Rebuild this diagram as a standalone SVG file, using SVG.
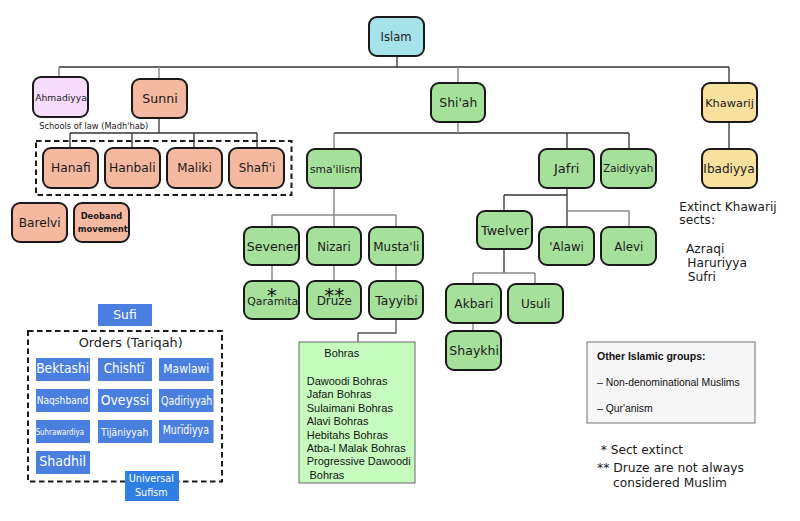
<svg xmlns="http://www.w3.org/2000/svg" width="800" height="521" viewBox="0 0 800 521">
<style>
.n rect{stroke:#1a1a1a;stroke-width:2}
.t{font-family:"DejaVu Sans",sans-serif;font-size:12px;fill:#1a1a1a;text-anchor:middle}
.cyan{fill:#a6e2ea}.sal{fill:#f5b8a0}.grn{fill:#a6e19c}.yel{fill:#f8e09d}.pur{fill:#f7dcfe}
.d{fill:none;stroke:#333;stroke-width:1.3}
.l{fill:none;stroke:#8a8a8a;stroke-width:1.5}
.dash{fill:none;stroke:#1a1a1a;stroke-width:2;stroke-dasharray:5.5,3.5}
.o rect{fill:#4a7fe0}
.w{font-family:"DejaVu Sans",sans-serif;fill:#ffffff;text-anchor:middle}
.lab{font-family:"DejaVu Sans",sans-serif;font-size:12.2px;fill:#1a1a1a}
.ar{font-family:"Liberation Sans",Arial,sans-serif;font-size:11px;fill:#111}
.star{font-family:"DejaVu Sans",sans-serif;font-size:20px;fill:#111;text-anchor:middle}
</style>
<rect width="800" height="521" fill="#ffffff"/>
<g id="connectors">
<path class="d" d="M397,56V67M59,67H729M729,67V83M159,118V133M70,133H257M70,133V148M132,133V148M194,133V148M257,133V148M334,133H629M567,133V149M629,133V149M729,122V149M567,188V227M504,195H567M504,195V211M504,249V273"/>
<path class="l" d="M59,67V77M159,67V79M458,67V83M458,122V133M334,133V149M334,188V227M272,215H396M272,215V227M396,215V227M272,265V281M334,265V281M396,265V281M567,211H629V227M473,273H535M473,273V284M535,273V284M473,323V331"/>
<path fill="none" stroke="#555" stroke-width="1.3" d="M396,319V333H358V342"/>
</g>
<g id="islam" class="n"><rect class="cyan" x="369" y="17" width="55" height="39" rx="8"/><text class="t" x="396" y="41" textLength="31" lengthAdjust="spacingAndGlyphs">Islam</text></g>
<g id="ahmadiyya" class="n"><rect class="pur" x="33" y="77" width="55" height="40" rx="8"/><text class="t" x="61" y="100.5" style="font-size:9.2px" textLength="51.5" lengthAdjust="spacingAndGlyphs">Ahmadiyya</text></g>
<g id="sunni" class="n"><rect class="sal" x="132" y="79" width="55" height="39" rx="8"/><text class="t" x="160" y="103" textLength="35.4" lengthAdjust="spacingAndGlyphs">Sunni</text></g>
<g id="shiah" class="n"><rect class="grn" x="431" y="83" width="54" height="39" rx="8"/><text class="t" x="458.3" y="107" textLength="38" lengthAdjust="spacingAndGlyphs">Shi'ah</text></g>
<g id="khawarij" class="n"><rect class="yel" x="702" y="83" width="55" height="39" rx="8"/><text class="t" x="729.5" y="106.5" style="font-size:11.3px" textLength="48.7" lengthAdjust="spacingAndGlyphs">Khawarij</text></g>
<g id="schools-label"><text x="39.3" y="129" style="font-family:'DejaVu Sans',sans-serif;font-size:8.3px;fill:#1a1a1a" textLength="109" lengthAdjust="spacingAndGlyphs">Schools of law (Madh'hab)</text></g>
<g id="schools-box"><rect class="dash" x="36" y="141" width="255.5" height="54"/></g>
<g id="hanafi" class="n"><rect class="sal" x="43" y="148" width="55" height="40" rx="8"/><text class="t" x="70.8" y="172.3" textLength="39.7" lengthAdjust="spacingAndGlyphs">Hanafi</text></g>
<g id="hanbali" class="n"><rect class="sal" x="105" y="148" width="55" height="40" rx="8"/><text class="t" x="132.3" y="172.3" textLength="46.7" lengthAdjust="spacingAndGlyphs">Hanbali</text></g>
<g id="maliki" class="n"><rect class="sal" x="167" y="148" width="55" height="40" rx="8"/><text class="t" x="194.5" y="172.3" textLength="34.4" lengthAdjust="spacingAndGlyphs">Maliki</text></g>
<g id="shafii" class="n"><rect class="sal" x="229" y="148" width="55" height="40" rx="8"/><text class="t" x="257" y="172.3" textLength="36.6" lengthAdjust="spacingAndGlyphs">Shafi'i</text></g>
<g id="barelvi" class="n"><rect class="sal" x="12" y="203" width="55" height="39" rx="8"/><text class="t" x="39.7" y="227" textLength="42" lengthAdjust="spacingAndGlyphs">Barelvi</text></g>
<g id="deoband" class="n"><rect class="sal" x="74" y="203" width="55" height="39" rx="8"/><text class="t" x="101.5" y="219.3" style="font-size:8.3px;font-weight:bold" textLength="41.6" lengthAdjust="spacingAndGlyphs">Deoband</text><text class="t" x="102.7" y="232.3" style="font-size:8.3px;font-weight:bold" textLength="50" lengthAdjust="spacingAndGlyphs">movement</text></g>
<g id="ismailism" class="n"><rect class="grn" x="307" y="149" width="54" height="39" rx="8"/><text class="t" x="335.3" y="172.5" style="font-size:11px" textLength="50.7" lengthAdjust="spacingAndGlyphs">sma'ilism</text></g>
<g id="jafri" class="n"><rect class="grn" x="539" y="149" width="55" height="39" rx="8"/><text class="t" x="566.7" y="172.5" textLength="25.3" lengthAdjust="spacingAndGlyphs">Jafri</text></g>
<g id="zaidiyyah" class="n"><rect class="grn" x="601" y="149" width="55" height="39" rx="8"/><text class="t" x="628.3" y="172" style="font-size:10.5px" textLength="50" lengthAdjust="spacingAndGlyphs">Zaidiyyah</text></g>
<g id="ibadiyya" class="n"><rect class="yel" x="702" y="149" width="55" height="39" rx="8"/><text class="t" x="729" y="172.5" textLength="51.3" lengthAdjust="spacingAndGlyphs">Ibadiyya</text></g>
<g id="sevener" class="n"><rect class="grn" x="244" y="227" width="55" height="38" rx="8"/><text class="t" x="272.7" y="250.5" textLength="52" lengthAdjust="spacingAndGlyphs">Sevener</text></g>
<g id="nizari" class="n"><rect class="grn" x="307" y="227" width="54" height="38" rx="8"/><text class="t" x="334" y="250.5" textLength="33.3" lengthAdjust="spacingAndGlyphs">Nizari</text></g>
<g id="mustali" class="n"><rect class="grn" x="369" y="227" width="54" height="38" rx="8"/><text class="t" x="396.3" y="250.5" textLength="46" lengthAdjust="spacingAndGlyphs">Musta'li</text></g>
<g id="qaramita" class="n"><rect class="grn" x="244" y="281" width="55" height="38" rx="8"/><text class="t" x="272.8" y="305" style="font-size:11px" textLength="51" lengthAdjust="spacingAndGlyphs">Qaramita</text><text class="star" x="271.7" y="301.5">*</text></g>
<g id="druze" class="n"><rect class="grn" x="307" y="281" width="54" height="38" rx="8"/><text class="t" x="334.3" y="304.5" textLength="35.3" lengthAdjust="spacingAndGlyphs">Druze</text><text class="star" x="334.3" y="301.5">**</text></g>
<g id="tayyibi" class="n"><rect class="grn" x="369" y="281" width="54" height="38" rx="8"/><text class="t" x="396.5" y="305" textLength="42.3" lengthAdjust="spacingAndGlyphs">Tayyibi</text></g>
<g id="bohras"><rect x="299" y="342" width="116" height="141" fill="#c6fdbf" stroke="#666" stroke-width="1"/>
<text class="ar" x="324.3" y="357">Bohras</text>
<text class="ar" x="306.7" y="385">Dawoodi Bohras</text>
<text class="ar" x="306.7" y="398.4">Jafan Bohras</text>
<text class="ar" x="306.7" y="411.8">Sulaimani Bohras</text>
<text class="ar" x="306.7" y="425.2">Alavi Bohras</text>
<text class="ar" x="306.7" y="438.6">Hebitahs Bohras</text>
<text class="ar" x="306.7" y="452">Atba-l Malak Bohras</text>
<text class="ar" x="306.7" y="465.4">Progressive Dawoodi</text>
<text class="ar" x="309.5" y="478.8">Bohras</text></g>
<g id="twelver" class="n"><rect class="grn" x="477" y="211" width="55" height="38" rx="8"/><text class="t" x="505" y="234.5" textLength="48" lengthAdjust="spacingAndGlyphs">Twelver</text></g>
<g id="alawi" class="n"><rect class="grn" x="539" y="227" width="55" height="38" rx="8"/><text class="t" x="566.5" y="250.5" textLength="34.4" lengthAdjust="spacingAndGlyphs">'Alawi</text></g>
<g id="alevi" class="n"><rect class="grn" x="601" y="227" width="55" height="38" rx="8"/><text class="t" x="628.8" y="250.5" textLength="29" lengthAdjust="spacingAndGlyphs">Alevi</text></g>
<g id="akbari" class="n"><rect class="grn" x="446" y="284" width="55" height="39" rx="8"/><text class="t" x="473.8" y="308" textLength="39" lengthAdjust="spacingAndGlyphs">Akbari</text></g>
<g id="usuli" class="n"><rect class="grn" x="508" y="284" width="55" height="39" rx="8"/><text class="t" x="535.7" y="308" textLength="29.3" lengthAdjust="spacingAndGlyphs">Usuli</text></g>
<g id="shaykhi" class="n"><rect class="grn" x="446" y="331" width="55" height="39" rx="8"/><text class="t" x="474.2" y="355" textLength="49.7" lengthAdjust="spacingAndGlyphs">Shaykhi</text></g>
<g id="extinct-khawarij">
<text class="lab" x="679.3" y="211" textLength="97.3" lengthAdjust="spacingAndGlyphs">Extinct Khawarij</text>
<text class="lab" x="679.3" y="224.3">sects:</text>
<text class="lab" x="686" y="252.7">Azraqi</text>
<text class="lab" x="687.3" y="266.7">Haruriyya</text>
<text class="lab" x="687.7" y="280.7">Sufri</text>
</g>
<g id="other-groups"><rect x="587" y="342" width="168" height="81" fill="#f6f6f6" stroke="#888" stroke-width="1.2"/>
<text x="597" y="360" style="font-family:'Liberation Sans',Arial,sans-serif;font-size:10.5px;font-weight:bold;fill:#111">Other Islamic groups:</text>
<text x="597" y="386" style="font-family:'Liberation Sans',Arial,sans-serif;font-size:10.4px;fill:#111">– Non-denominational Muslims</text>
<text x="597" y="412" style="font-family:'Liberation Sans',Arial,sans-serif;font-size:10.4px;fill:#111">– Qur'anism</text>
</g>
<g id="footnotes">
<text class="lab" x="600.7" y="454">* Sect extinct</text>
<text class="lab" x="597" y="471.7" textLength="147" lengthAdjust="spacingAndGlyphs">** Druze are not always</text>
<text class="lab" x="613" y="486.7">considered Muslim</text>
</g>
<g id="sufi" class="o"><rect x="98" y="304" width="54" height="22"/><text class="w" x="125" y="319" style="font-size:12.5px" textLength="23.4" lengthAdjust="spacingAndGlyphs">Sufi</text></g>
<g id="orders-box"><rect class="dash" x="28" y="331" width="194" height="150.5"/><text x="130.7" y="346.7" style="font-family:'DejaVu Sans',sans-serif;font-size:12.5px;fill:#1a1a1a;text-anchor:middle" textLength="104" lengthAdjust="spacingAndGlyphs">Orders (Tariqah)</text></g>
<g id="bektashi" class="o"><rect x="36" y="358" width="54" height="23"/><text class="w" x="62.7" y="373.3" style="font-size:14px" textLength="53" lengthAdjust="spacingAndGlyphs">Bektashi</text></g>
<g id="chishti" class="o"><rect x="98" y="358" width="54" height="23"/><text class="w" x="124" y="373.3" style="font-size:13.5px" textLength="40.7" lengthAdjust="spacingAndGlyphs">Chishtï</text></g>
<g id="mawlawi" class="o"><rect x="159" y="358" width="54.5" height="23"/><text class="w" x="186.3" y="373.3" style="font-size:12px" textLength="46" lengthAdjust="spacingAndGlyphs">Mawlawi</text></g>
<g id="naqshband" class="o"><rect x="36" y="389" width="54" height="23"/><text class="w" x="62.5" y="404.3" style="font-size:10.5px" textLength="51.7" lengthAdjust="spacingAndGlyphs">Naqshband</text></g>
<g id="oveyssi" class="o"><rect x="98" y="389" width="54" height="23"/><text class="w" x="125" y="405" style="font-size:14px" textLength="48.7" lengthAdjust="spacingAndGlyphs">Oveyssi</text></g>
<g id="qadiriyyah" class="o"><rect x="159" y="389" width="54.5" height="23"/><text class="w" x="186.7" y="404.5" style="font-size:11.5px" textLength="51.3" lengthAdjust="spacingAndGlyphs">Qadiriyyah</text></g>
<g id="suhrawardiya" class="o"><rect x="36" y="420" width="54" height="23"/><text class="w" x="59.8" y="435" style="font-size:9.5px" textLength="48.3" lengthAdjust="spacingAndGlyphs">Suhrawardiya</text></g>
<g id="tijaniyyah" class="o"><rect x="98" y="420" width="54" height="23"/><text class="w" x="124.7" y="435.7" style="font-size:11px" textLength="47.3" lengthAdjust="spacingAndGlyphs">Tijäniyyah</text></g>
<g id="muridiyya" class="o"><rect x="159" y="420" width="54.5" height="23"/><text class="w" x="185.8" y="434.3" style="font-size:12.5px" textLength="46.3" lengthAdjust="spacingAndGlyphs">Murïdiyya</text></g>
<g id="shadhil" class="o"><rect x="36" y="451" width="54" height="23"/><text class="w" x="62.7" y="466" style="font-size:14px" textLength="46.7" lengthAdjust="spacingAndGlyphs">Shadhil</text></g>
<g id="universal-sufism"><rect x="125" y="471" width="54" height="30" fill="#2f7ee2"/><text class="w" x="151.3" y="481.7" style="font-size:10.5px" textLength="45.3" lengthAdjust="spacingAndGlyphs">Universal</text><text class="w" x="151.3" y="495.7" style="font-size:10.5px" textLength="32.7" lengthAdjust="spacingAndGlyphs">Sufism</text></g>
</svg>
